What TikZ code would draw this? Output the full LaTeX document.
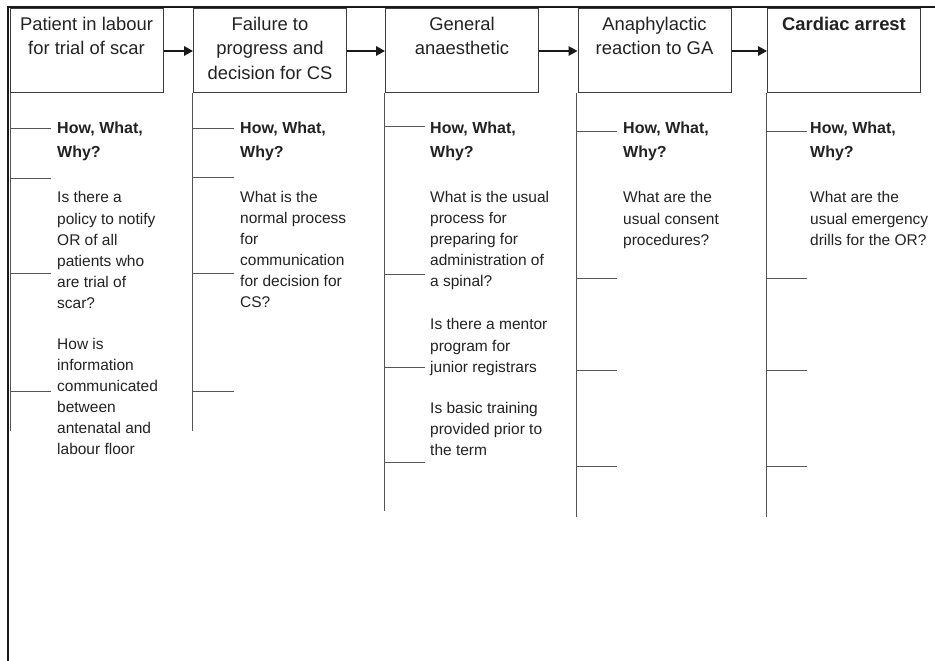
\documentclass[tikz,border=0pt]{standalone}
\usepackage{fontspec}
\setmainfont{Liberation Sans}
\usetikzlibrary{arrows.meta}
\definecolor{ink}{HTML}{222222}
\definecolor{edge}{HTML}{3C3C3C}
\definecolor{spinec}{HTML}{555555}
\begin{document}
\begin{tikzpicture}[x=1pt,y=-1pt,
 stage/.style={rectangle, draw=edge, line width=1pt, minimum width=153pt, minimum height=84pt, inner sep=0pt},
 stagetext/.style={anchor=north, align=center, inner sep=0pt, font=\fontsize{18.4}{24.5}\selectfont, text=ink},
 head/.style={anchor=north west, align=left, inner sep=0pt, font=\fontsize{16}{24}\selectfont\bfseries, text=ink},
 body/.style={anchor=north west, align=left, inner sep=0pt, font=\fontsize{15.5}{21.1}\selectfont, text=ink},
 flow/.style={line width=1.8pt, draw=black!90, -{Triangle[length=9pt,width=9.5pt]}},
 spine/.style={line width=1pt, draw=spinec},
 tickline/.style={line width=1pt, draw=spinec},
 frame/.style={line width=2pt, draw=black!90}]
\useasboundingbox (0,0) rectangle (935,661);
% frame
\draw[frame] (8,661) -- (8,7) -- (935,7);
% stage boxes
\node[stage] (b1) at (86.5,51) {};
\node[stage] (b2) at (270,51) {};
\node[stage] (b3) at (462,51) {};
\node[stage] (b4) at (654.5,51) {};
\node[stage] (b5) at (844,51) {};
\node[stagetext] (t1) at (86.5,16.5) {Patient in labour\\for trial of scar};
\node[stagetext] (t2) at (270,16.5) {Failure to\\progress and\\decision for CS};
\node[stagetext] (t3) at (462,16.5) {General\\anaesthetic};
\node[stagetext] (t4) at (654.5,16.5) {Anaphylactic\\reaction to GA};
\node[stagetext, font=\fontsize{18.4}{24.5}\selectfont\bfseries] (t5) at (844,16.5) {Cardiac arrest};
% arrows
\draw[flow] (b1.east) -- (b2.west);
\draw[flow] (b2.east) -- (b3.west);
\draw[flow] (b3.east) -- (b4.west);
\draw[flow] (b4.east) -- (b5.west);
% spines
\draw[spine] ([xshift=0.5pt]b1.south west) -- ++(0,337);
\draw[spine] ([xshift=-1pt]b2.south west) -- ++(0,337);
\draw[spine] ([xshift=-1pt]b3.south west) -- ++(0,417);
\draw[spine] ([xshift=-1pt]b4.south west) -- ++(0,423);
\draw[spine] ([xshift=-1pt]b5.south west) -- ++(0,423);
% ticks
\foreach \y in {128,178,273,391} \draw[tickline] (10.5,\y) -- ++(40,0);
\foreach \y in {128,177,273,391} \draw[tickline] (193,\y) -- ++(41,0);
\foreach \y in {126,274,367,462} \draw[tickline] (385,\y) -- ++(40,0);
\foreach \y in {131,278,370,466} \draw[tickline] (577,\y) -- ++(40,0);
\foreach \y in {131,278,370,466} \draw[tickline] (767,\y) -- ++(40,0);
% column 1
\node[head] (h1) at (57,121.3) {How, What,\\Why?};
\node[body] (q1a) at (57,191.5) {Is there a\\policy to notify\\OR of all\\patients who\\are trial of\\scar?};
\node[body] (q1b) at (57,337.7) {How is\\information\\communicated\\between\\antenatal and\\labour floor};
% column 2
\node[head] (h2) at (240,121.3) {How, What,\\Why?};
\node[body] (q2a) at (240,191) {What is the\\normal process\\for\\communication\\for decision for\\CS?};
% column 3
\node[head] (h3) at (430,121.3) {How, What,\\Why?};
\node[body] (q3a) at (430,191) {What is the usual\\process for\\preparing for\\administration of\\a spinal?};
\node[body] (q3b) at (430,318.5) {Is there a mentor\\program for\\junior registrars};
\node[body] (q3c) at (430,401.7) {Is basic training\\provided prior to\\the term};
% column 4
\node[head] (h4) at (623,121.3) {How, What,\\Why?};
\node[body] (q4a) at (623,191.5) {What are the\\usual consent\\procedures?};
% column 5
\node[head] (h5) at (810,121.3) {How, What,\\Why?};
\node[body] (q5a) at (810,191.5) {What are the\\usual emergency\\drills for the OR?};
\end{tikzpicture}
\end{document}
